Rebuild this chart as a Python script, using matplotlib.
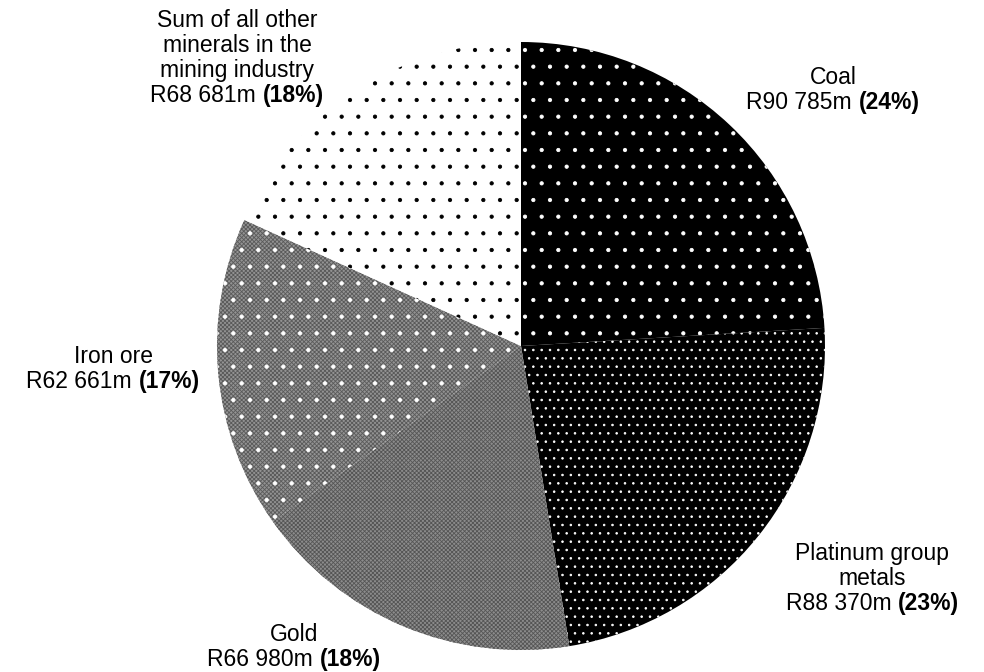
import matplotlib
matplotlib.use("Agg")
import matplotlib.pyplot as plt
from matplotlib.offsetbox import TextArea, HPacker, VPacker, AnnotationBbox

plt.rcParams['font.family'] = ['Liberation Sans', 'DejaVu Sans']
plt.rcParams['hatch.linewidth'] = 0.6

# data (Rand million)
minerals = ['Coal', 'Platinum group\nmetals', 'Gold', 'Iron ore',
            'Sum of all other\nminerals in the\nmining industry']
values = [90785, 88370, 66980, 62661, 68681]
value_labels = ['R90 785m', 'R88 370m', 'R66 980m', 'R62 661m', 'R68 681m']
pct_labels = ['(24%)', '(23%)', '(18%)', '(17%)', '(18%)']

# base fill + fine texture, then dot layer on top
faces = ['black', 'black', '#8c8c8c', '#939393', 'white']
base_hatch = ['', '', 'xxxxxxxx', 'xxxxxxxx', '']
base_hatch_col = ['black', 'black', '#555555', '#5a5a5a', 'white']
dot_hatch = ['.', '..', '', '.', '.']
dot_col = ['white', 'white', 'none', 'white', 'black']

# label anchor spots (pie radius = 1)
label_pos = [(1.026, 0.842), (1.155, -0.766), (-0.747, -0.99),
             (-1.342, -0.076), (-0.934, 0.947)]

fig = plt.figure(figsize=(9.84, 6.72), dpi=100)
cx, cy, r = 521, 346, 304
ax = fig.add_axes([(cx - r) / 984, (672 - cy - r) / 672, 2 * r / 984, 2 * r / 672])

wedges, _ = ax.pie(values, startangle=90, counterclock=False,
                   wedgeprops=dict(linewidth=0))
for w, fc, hc, h in zip(wedges, faces, base_hatch_col, base_hatch):
    w.set_facecolor(fc)
    w.set_edgecolor(hc)
    w.set_hatch(h)

dots, _ = ax.pie(values, startangle=90, counterclock=False,
                 wedgeprops=dict(linewidth=0))
for w, hc, h in zip(dots, dot_col, dot_hatch):
    w.set_facecolor('none')
    w.set_edgecolor(hc)
    w.set_hatch(h)

ax.set_xlim(-1, 1)
ax.set_ylim(-1, 1)
ax.set_aspect('equal')
ax.axis('off')

fs = 16.5
for name, vl, pl, pos in zip(minerals, value_labels, pct_labels, label_pos):
    lines = [TextArea(t, textprops=dict(size=fs, color='black'))
             for t in name.split('\n')]
    last = HPacker(children=[TextArea(vl + ' ', textprops=dict(size=fs)),
                             TextArea(pl, textprops=dict(size=fs, weight='bold'))],
                   align='baseline', pad=0, sep=0)
    box = VPacker(children=lines + [last], align='center', pad=0, sep=1.5)
    ab = AnnotationBbox(box, pos, xycoords='data', frameon=False,
                        box_alignment=(0.5, 0.5), annotation_clip=False)
    ax.add_artist(ab)

fig.savefig('out.png', dpi=100)
